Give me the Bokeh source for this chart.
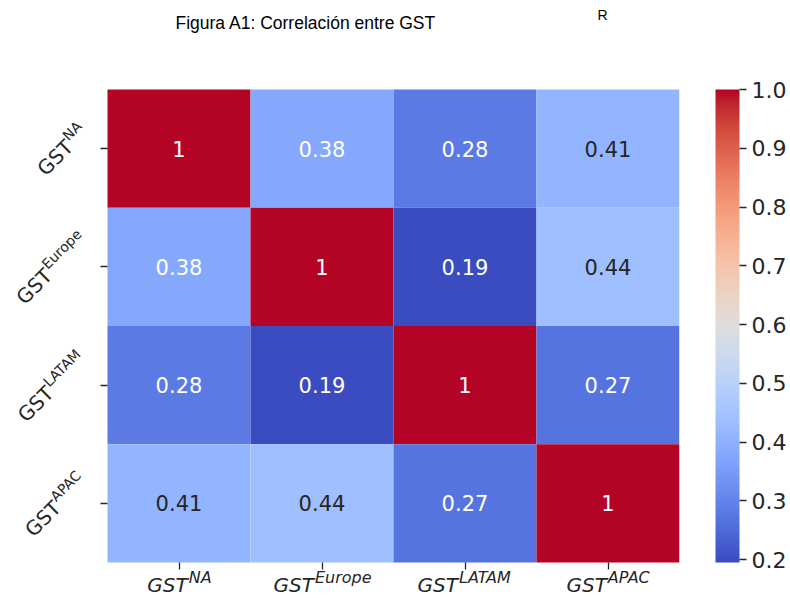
import math
import numpy as np
from bokeh.plotting import figure
from bokeh.models import (ColumnDataSource, Range1d, FixedTicker, LinearColorMapper,
                          ColorBar, Label, NumeralTickFormatter)
from bokeh.core.properties import value
from bokeh.embed import file_html
from bokeh.resources import INLINE

# ---------------- data ----------------
regions = ["NA", "Europe", "LATAM", "APAC"]
row_NA = [1.00, 0.38, 0.28, 0.41]
row_Europe = [0.38, 1.00, 0.19, 0.44]
row_LATAM = [0.28, 0.19, 1.00, 0.27]
row_APAC = [0.41, 0.44, 0.27, 1.00]
rows = [row_NA, row_Europe, row_LATAM, row_APAC]
cbar_ticks = [0.2, 0.3, 0.4, 0.5, 0.6, 0.7, 0.8, 0.9, 1.0]
title_text = "Figura A1: Correlación entre GST"
title_extra = "R"

# ---------------- coolwarm colormap ----------------
_cw = [
    (59, 76, 192), (68, 90, 204), (77, 104, 215), (87, 117, 225), (98, 130, 234),
    (108, 142, 241), (119, 154, 247), (130, 165, 251), (141, 176, 254), (152, 185, 255),
    (163, 194, 255), (174, 201, 253), (184, 208, 249), (194, 213, 244), (204, 217, 238),
    (213, 219, 230), (221, 221, 221), (229, 216, 209), (236, 211, 197), (241, 204, 185),
    (245, 196, 173), (247, 187, 160), (247, 177, 148), (247, 166, 135), (244, 154, 123),
    (241, 141, 111), (236, 127, 99), (229, 112, 88), (222, 96, 77), (213, 80, 66),
    (203, 62, 56), (192, 40, 47), (180, 4, 38)]
_cw = np.array(_cw, dtype=float)
_pos = np.linspace(0, 1, len(_cw))
_t = np.linspace(0, 1, 256)
palette_rgb = np.stack([np.interp(_t, _pos, _cw[:, k]) for k in range(3)], axis=1)
palette = ["#%02x%02x%02x" % tuple(int(round(c)) for c in rgb) for rgb in palette_rgb]

vmin, vmax = 0.195, 1.0
mapper = LinearColorMapper(palette=palette, low=vmin, high=vmax)


def lum(rgb):
    c = np.array(rgb) / 255.0
    c = np.where(c <= 0.03928, c / 12.92, ((c + 0.055) / 1.055) ** 2.4)
    return 0.2126 * c[0] + 0.7152 * c[1] + 0.0722 * c[2]


n = len(regions)
xs, ys, vals, txt, tcol = [], [], [], [], []
for i, row in enumerate(rows):
    for j, v in enumerate(row):
        xs.append(j + 0.5)
        ys.append(i + 0.5)
        vals.append(v)
        txt.append("{:.2g}".format(v))
        idx = int(np.clip((v - vmin) / (vmax - vmin) * 255, 0, 255))
        tcol.append("#262626" if lum(palette_rgb[idx]) > 0.408 else "#ffffff")
src = ColumnDataSource(dict(x=xs, y=ys, v=vals, t=txt, tc=tcol))

# ---------------- layout (pixels) ----------------
FW, FH = 679, 596            # frame covers the label areas too
HM_L, HM_T, HM_W, HM_H = 107, 89, 572, 473   # heatmap box inside the frame
ux = HM_W / n
uy = HM_H / n
x_range = Range1d(-HM_L / ux, n + (FW - HM_L - HM_W) / ux)
y_range = Range1d(n + (FH - HM_T - HM_H) / uy, -HM_T / uy)

p = figure(frame_width=FW, frame_height=FH, x_range=x_range, y_range=y_range,
           output_backend="svg", toolbar_location=None,
           min_border_left=0, min_border_top=0, min_border_bottom=0, min_border_right=0)
p.background_fill_color = "white"
p.border_fill_color = "white"
p.outline_line_color = None
p.grid.visible = False

p.rect(x="x", y="y", width=1, height=1, source=src,
       fill_color={"field": "v", "transform": mapper}, line_color=None)
p.text(x="x", y="y", text="t", source=src, text_color="tc", text_align="center",
       text_baseline="middle", text_font=value("DejaVu Sans"), text_font_size="21px")

tick_pos = [k + 0.5 for k in range(n)]
p.xaxis[0].fixed_location = n
p.yaxis[0].fixed_location = 0
for ax in (p.xaxis[0], p.yaxis[0]):
    ax.ticker = FixedTicker(ticks=tick_pos)
    ax.axis_line_color = None
    ax.major_tick_in = 0
    ax.major_tick_out = 7
    ax.minor_tick_line_color = None
    ax.major_tick_line_color = "#262626"
    ax.major_tick_line_width = 1.3
    ax.major_label_overrides = {t: "" for t in tick_pos}

# ---------------- tick labels with superscripts ----------------
W = {"G": 0.775, "S": 0.635, "T": 0.611, "N": 0.748, "A": 0.684, "E": 0.632, "u": 0.634,
     "r": 0.411, "o": 0.612, "p": 0.635, "e": 0.615, "L": 0.557, "M": 0.863, "P": 0.603,
     "C": 0.698}


def width(s, size):
    return sum(W.get(ch, 0.6) for ch in s) * size


def lab(**kw):
    base = dict(x_units="data", y_units="data", text_baseline="alphabetic",
                text_font="DejaVu Sans", text_color="#262626")
    base.update(kw)
    p.add_layout(Label(**base))


# x labels (italic, like math text)
gx, sx_, rx = 20, 16, 7
for k, r in enumerate(regions):
    wG = width("GST", gx)
    wS = width(r, sx_)
    off = -(wG + wS) / 2 + wG
    lab(x=tick_pos[k], y=n, x_offset=off, y_offset=-22, text="GST", text_align="right",
        text_font_size=f"{gx}px", text_font_style="italic")
    lab(x=tick_pos[k], y=n, x_offset=off + 1, y_offset=-22 + rx, text=r, text_align="left",
        text_font_size=f"{sx_}px", text_font_style="italic")

# y labels (rotated, upright font)
gy, sy_, ry = 20, 14, 7
th = math.radians(45)
c, s = math.cos(th), math.sin(th)
for k, r in enumerate(regions):
    wG = width("GST", gy)
    wS = width(r, sy_)
    top = max(0.73 * gy, ry + 0.73 * sy_)
    corners = [(-wG, 0), (wS, 0), (-wG, top), (wS, top)]
    X = [x * c - y * s for x, y in corners]
    Y = [x * s + y * c for x, y in corners]
    px = -24 - max(X)
    py = -(min(Y) + max(Y)) / 2 + 4
    lab(x=0, y=tick_pos[k], x_offset=px, y_offset=py, text="GST", angle=th,
        text_align="right", text_font_size=f"{gy}px")
    lab(x=0, y=tick_pos[k], x_offset=px - ry * s + 1 * c, y_offset=py + ry * c + 1 * s,
        text=r, angle=th, text_align="left", text_font_size=f"{sy_}px")

# title texts
p.add_layout(Label(x=0, y=0, x_units="data", y_units="data", x_offset=68, y_offset=67,
                   text=title_text, text_font="Liberation Sans", text_font_size="17.5px",
                   text_color="#000000", text_baseline="alphabetic"))
p.add_layout(Label(x=0, y=0, x_units="data", y_units="data", x_offset=490, y_offset=75,
                   text=title_extra, text_font="Liberation Sans", text_font_size="14px",
                   text_color="#000000", text_baseline="alphabetic"))

# colour bar
cb = ColorBar(color_mapper=mapper, ticker=FixedTicker(ticks=cbar_ticks),
              formatter=NumeralTickFormatter(format="0.0"), width=24, height=HM_H,
              location=(36, FH - HM_T - HM_H), padding=0, margin=0, bar_line_color=None,
              major_tick_in=0, major_tick_out=7, major_tick_line_color="#262626",
              major_tick_line_width=1.3, minor_tick_line_color=None, label_standoff=5,
              major_label_text_font="DejaVu Sans", major_label_text_font_size="22px",
              major_label_text_color="#262626", background_fill_color=None,
              border_line_color=None)
p.add_layout(cb, "right")

open("out.html", "w").write(file_html(p, INLINE))
